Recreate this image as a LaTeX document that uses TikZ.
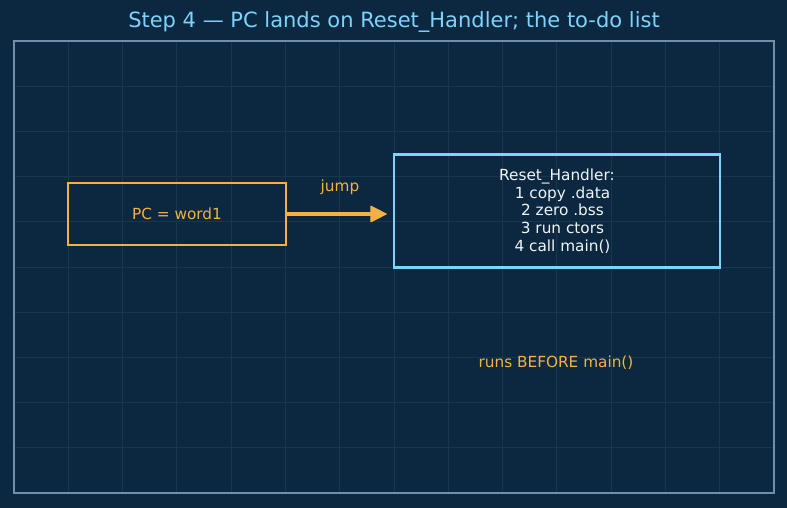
\documentclass[tikz,border=0pt]{standalone}
\usepackage{fontspec}
\setmainfont{DejaVu Sans}
\usetikzlibrary{arrows.meta}
\definecolor{bg}{HTML}{0C2840}
\definecolor{gridc}{HTML}{17374F}
\definecolor{framec}{HTML}{6F8FAA}
\definecolor{titlec}{HTML}{7DD3FC}
\definecolor{boxblue}{HTML}{7DD3FC}
\definecolor{orng}{HTML}{F5B042}
\definecolor{txtw}{HTML}{F1F5F9}
\tikzset{
  pcbox/.style={draw=orng, line width=2.4pt, minimum width=218pt, minimum height=62pt, text=orng, font=\fontsize{15.3}{18}\selectfont, inner sep=0pt},
  rhbox/.style={draw=boxblue, line width=2.4pt, minimum width=326pt, minimum height=113pt, text=txtw, font=\fontsize{15.3}{17.8}\selectfont, align=center, inner sep=0pt},
  lbl/.style={text=orng, font=\fontsize{15.3}{18}\selectfont, inner sep=0pt},
  jumparrow/.style={draw=orng, line width=3.5pt, -{Triangle[length=17pt,width=17pt,line width=1pt,round]}}
}
\begin{document}
\begin{tikzpicture}[x=1pt,y=-1pt]
\fill[bg] (0,0) rectangle (787,508);
\useasboundingbox (0,0) rectangle (787,508);
% grid
\foreach \k in {1,...,13} {
  \draw[gridc, line width=1pt] ({14+54.2857*\k},41) -- ({14+54.2857*\k},493);
}
\foreach \k in {1,...,9} {
  \draw[gridc, line width=1pt] (14,{41+45.2*\k}) -- (774,{41+45.2*\k});
}
\draw[framec, line width=1.5pt] (14,41) rectangle (774,493);
% title
\node[text=titlec, font=\fontsize{21}{24}\selectfont, inner sep=0pt] (title) at (394,22) {Step 4 — PC lands on Reset\_Handler; the to-do list};
% boxes
\node[pcbox] (pc) at (177,214) {PC = word1};
\node[rhbox] (rh) at (557,211) {Reset\_Handler:\\ \hspace*{11pt}1 copy .data\\ \hspace*{11pt}2 zero .bss\\ \hspace*{11pt}3 run ctors\\ \hspace*{11pt}4 call main()};
\draw[jumparrow, shorten >=6pt] (pc.east) -- (pc.east -| rh.west) node[lbl, midway, above=18pt] (jump) {jump};
\node[lbl] (note) at (556,363) {runs BEFORE main()};
\end{tikzpicture}
\end{document}
